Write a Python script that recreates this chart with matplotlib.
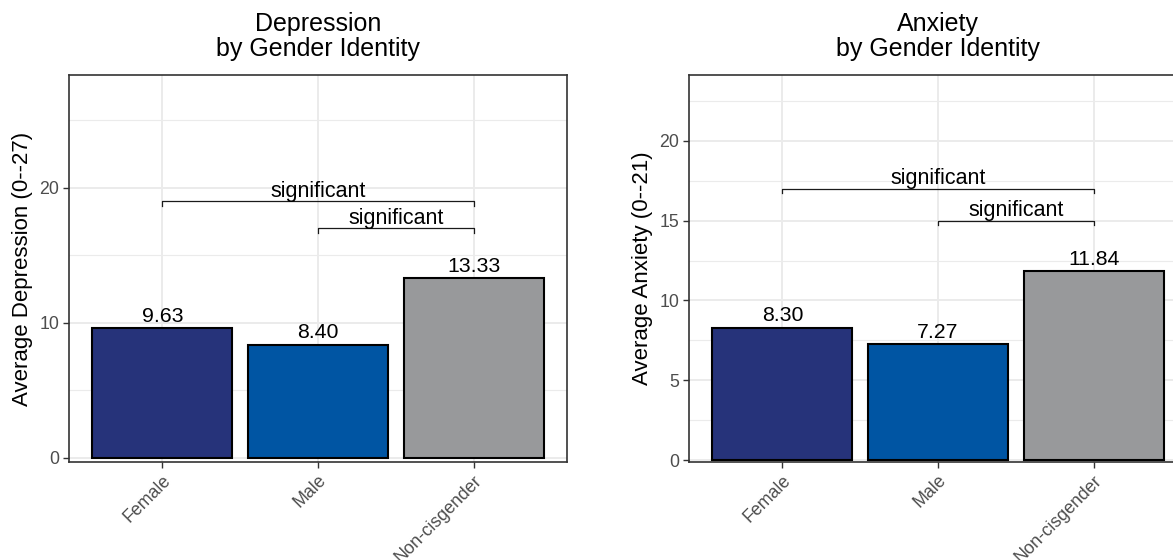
import matplotlib
matplotlib.use("Agg")
import matplotlib.pyplot as plt
import numpy as np

plt.rcParams['font.family'] = ['Liberation Sans', 'DejaVu Sans']

groups = ["Female", "Male", "Non-cisgender"]
bar_colors = ["#26337A", "#0055A3", "#98999B"]

depression = [9.63, 8.40, 13.33]
anxiety = [8.30, 7.27, 11.84]

# (group_a, group_b, bracket height, label)
dep_sig = [(0, 2, 19.0, "significant"), (1, 2, 17.0, "significant")]
anx_sig = [(0, 2, 17.0, "significant"), (1, 2, 15.0, "significant")]

panels = [
    dict(title="Depression\nby Gender Identity", ylabel="Average Depression (0--27)",
         values=depression, sig=dep_sig, ylim=(-0.3, 28.37),
         major=[0, 10, 20], minor=[5, 15, 25], tip=0.3,
         rect=[69 / 1173, 1 - 462 / 560, 498 / 1173, 387 / 560]),
    dict(title="Anxiety\nby Gender Identity", ylabel="Average Anxiety (0--21)",
         values=anxiety, sig=anx_sig, ylim=(-0.1, 24.1),
         major=[0, 5, 10, 15, 20], minor=[2.5, 7.5, 12.5, 17.5, 22.5], tip=0.25,
         rect=[689 / 1173, 1 - 462 / 560, 498 / 1173, 387 / 560]),
]

fig = plt.figure(figsize=(11.73, 5.6), dpi=100)

for p in panels:
    ax = fig.add_axes(p["rect"])
    x = np.arange(len(groups))
    ax.bar(x, p["values"], width=0.9, color=bar_colors, edgecolor="black",
           linewidth=1.5, zorder=3)
    for xi, v in zip(x, p["values"]):
        ax.annotate(f"{v:.2f}", (xi, v), xytext=(0, 4.5), textcoords="offset points",
                    ha="center", va="baseline", fontsize=15.3, color="black", zorder=4)

    for a, b, h, lab in p["sig"]:
        t = p["tip"]
        ax.plot([a, a, b, b], [h - t, h, h, h - t], color="#1a1a1a", lw=0.9, zorder=4)
        ax.annotate(lab, ((a + b) / 2, h), xytext=(0, 3.2), textcoords="offset points",
                    ha="center", va="baseline", fontsize=15.5, color="black", zorder=4)

    ax.set_xlim(-0.6, 2.6)
    ax.set_ylim(*p["ylim"])
    ax.set_yticks(p["major"])
    ax.set_yticks(p["minor"], minor=True)
    ax.set_xticks(x)
    ax.set_xticklabels(groups, rotation=45, ha="right", va="top",
                       rotation_mode="anchor", fontsize=12.8, color="#4D4D4D")
    ax.tick_params(axis="y", labelsize=12.8, labelcolor="#4D4D4D", color="#333333",
                   length=4, width=1, pad=3)
    ax.tick_params(axis="y", which="minor", length=0)
    ax.tick_params(axis="x", color="#333333", length=4, width=1, pad=3)

    ax.grid(which="major", color="#EBEBEB", lw=1.4, zorder=0)
    ax.grid(which="minor", axis="y", color="#EBEBEB", lw=0.8, zorder=0)
    ax.set_axisbelow(True)
    for s in ax.spines.values():
        s.set_color("#333333")
        s.set_linewidth(1.2)

    ax.set_title(p["title"], fontsize=18, linespacing=1.05, pad=14)
    ax.set_ylabel(p["ylabel"], fontsize=16)
    ax.yaxis.set_label_coords(-0.072, 0.5)

fig.savefig("out.png", dpi=100)
